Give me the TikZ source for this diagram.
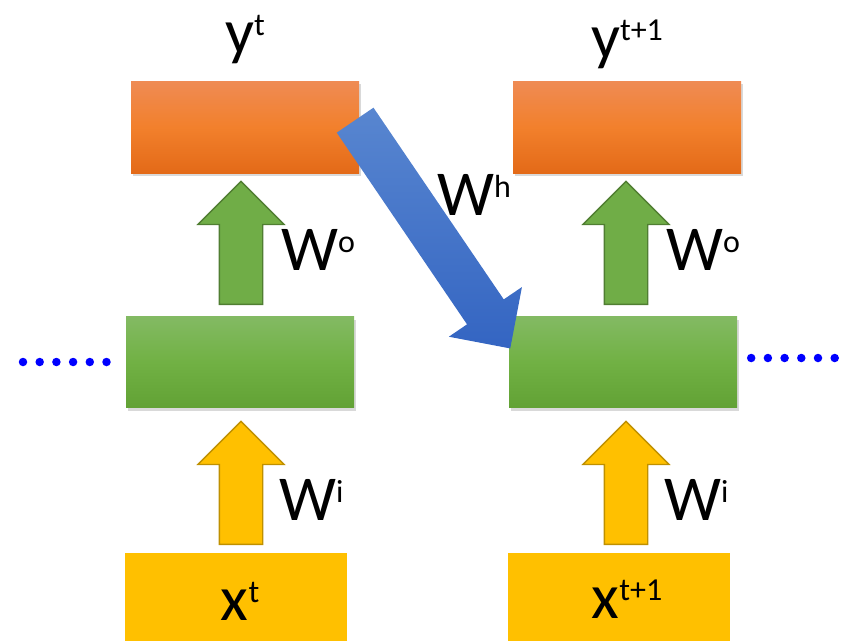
\documentclass[tikz,border=0pt]{standalone}
\usepackage{fontspec}
\setmainfont{Carlito}
\usetikzlibrary{shapes.arrows, shadows}

\definecolor{orgtop}{RGB}{239,139,84}
\definecolor{orgmid}{RGB}{242,128,44}
\definecolor{orgbot}{RGB}{227,106,24}
\definecolor{grntop}{RGB}{131,186,99}
\definecolor{grnmid}{RGB}{113,177,68}
\definecolor{grnbot}{RGB}{98,162,53}
\definecolor{grnfill}{RGB}{112,173,71}
\definecolor{grnline}{RGB}{80,126,50}
\definecolor{yelfill}{RGB}{255,192,0}
\definecolor{yelline}{RGB}{191,144,0}
\definecolor{blutop}{RGB}{88,134,208}
\definecolor{blubot}{RGB}{52,101,194}

\newcommand{\supx}[1]{\raisebox{18pt}{\fontsize{32}{32}\selectfont #1}}

\begin{document}
\begin{tikzpicture}[
                x = 1pt, y = -1pt,
                big/.style = {font=\fontsize{64}{70}\selectfont, inner sep=0pt},
                box/.style = {minimum width=228pt, minimum height=92pt, inner sep=0pt},
                outbox/.style = {box, top color=orgtop, bottom color=orgbot, middle color=orgmid,
                                 drop shadow={shadow xshift=2pt, shadow yshift=-3pt, opacity=0.3}},
                hidbox/.style = {box, minimum height=91pt, top color=grntop, bottom color=grnbot, middle color=grnmid,
                                 drop shadow={shadow xshift=2pt, shadow yshift=-3pt, opacity=0.3}},
                inbox/.style = {box, minimum width=222pt, minimum height=88pt, fill=yelfill, big},
                uparr/.style = {single arrow, rotate=90, anchor=tail, inner xsep=0pt, inner ysep=21pt, line width=1.3pt,
                                minimum height=123pt, minimum width=85pt, single arrow head extend=21.5pt},
                dotline/.style = {blue, line width=8.5pt, line cap=round, dash pattern=on 0pt off 16.7pt}
                    ]
                \useasboundingbox (0,0) rectangle (846,640);
                % boxes
                \node[outbox] (yt) at (245,127) {};
                \node[outbox] (ytt) at (627,127) {};
                \node[hidbox] (ht) at (240,362) {};
                \node[hidbox] (htt) at (623,362) {};
                \node[inbox] (xt) at (236,597) {};
                \node[inbox] (xtt) at (619,597) {};
                % block arrows
                \node[uparr, fill=grnfill, draw=grnline] (wot) at (241,305) {};
                \node[uparr, fill=grnfill, draw=grnline] (wott) at (626,305) {};
                \node[uparr, fill=yelfill, draw=yelline] (wit) at (241,545) {};
                \node[uparr, fill=yelfill, draw=yelline] (witt) at (626,545) {};
                % recurrent arrow
                \node[single arrow, rotate=-55.8, anchor=tail, inner xsep=0pt, inner ysep=22pt, minimum height=276pt,
                      minimum width=88pt, single arrow head extend=22pt, top color=blutop, bottom color=blubot] (wh) at (355,120) {};
                % dots
                \coordinate (dotl) at (23,362);
                \coordinate (dotr) at (835,358);
                \draw[dotline, shorten >=19pt] (dotl) -- (ht.west);
                \draw[dotline, shorten <=14pt] (htt.east |- dotr) -- (dotr);
                % labels
                \node[big, anchor=base] (ylt) at (245,53) {y\supx{t}};
                \node[big, anchor=base] (yltt) at (627,58) {y\supx{t+1}};
                \node[big, anchor=base] (xlt) at (240,620) {x\supx{t}};
                \node[big, anchor=base] (xltt) at (627,618) {x\supx{t+1}};
                \node[big, anchor=base west] (wolt) at (281,270) {W\supx{o}};
                \node[big, anchor=base west] (wolt2) at (666,270) {W\supx{o}};
                \node[big, anchor=base west] (wilt) at (279,520) {W\supx{i}};
                \node[big, anchor=base west] (wilt2) at (664,520) {W\supx{i}};
                \node[big, anchor=base west] (whl) at (437,215) {W\supx{h}};
            \end{tikzpicture}
\end{document}
